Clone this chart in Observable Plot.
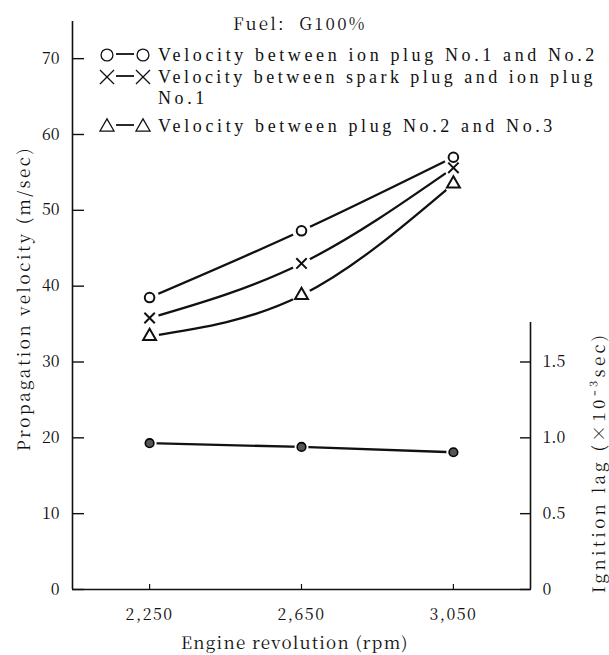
<!DOCTYPE html>
<html><head><meta charset="utf-8">
<script src="https://cdn.jsdelivr.net/npm/d3@7"></script>
<script src="https://cdn.jsdelivr.net/npm/@observablehq/plot@0.6"></script>
<style>
body{margin:0;background:#fff;}
#wrap{position:relative;width:609px;height:655px;font-family:"Noto Serif CJK JP","Liberation Serif",serif;color:#111;}
#wrap svg{position:absolute;left:0;top:0;}
.t{position:absolute;white-space:pre;font-size:17px;line-height:17px;font-family:"Noto Serif CJK JP","Liberation Serif",serif;}
.lgd{font-family:"Liberation Serif",serif;}
.rot{transform-origin:center center;}
</style></head><body><div id="wrap"></div>
<script>
// ---- data ----
const rpm = [2250, 2650, 3050];
const velIon12 = [38.5, 47.3, 57.0];
const velSparkIon1 = [35.8, 43.0, 55.6];
const velPlug23 = [33.4, 38.8, 53.5];
const ignitionLag = [0.965, 0.94, 0.905];
const velocityTicks = [0, 10, 20, 30, 40, 50, 60, 70];
const lagTicks = [0, 0.5, 1.0, 1.5];
const seriesNames = ["Velocity between ion plug No.1 and No.2", "Velocity between spark plug and ion plug", "Velocity between plug No.2 and No.3"];
const seriesNameWrap = "No.1";
const seriesSymbols = ["circle", "times", "triangle"];
const titleText = "Fuel:  G100%";
const xTitle = "Engine revolution (rpm)";
const yTitle = "Propagation velocity (m/sec)";
const y2Title = "Ignition lag (\u00d710\u207b\u00b3sec)";
const lagPerVelocity = 0.05; // 1.0 (x10^-3 sec) lag <-> 20 m/sec on the shared vertical scale

const seriesValues = [velIon12, velSparkIon1, velPlug23];
const velData = seriesValues.flatMap((vals, s) => vals.map((v, i) => ({rpm: rpm[i], v, s})));
const lagData = ignitionLag.map((l, i) => ({rpm: rpm[i], v: l / lagPerVelocity}));
const xDomain = [2047, 3253];
const yDomain = [0, 74.9];
const rightTop = 1.76 / lagPerVelocity;
const FONT = '"Noto Serif CJK JP","Liberation Serif",serif';

const ink = "#111";
const chart = Plot.plot({
  width: 609, height: 655,
  marginLeft: 72, marginRight: 79, marginTop: 21, marginBottom: 66,
  style: {fontSize: "16px", background: "white", fontFamily: FONT},
  x: {domain: xDomain},
  y: {domain: yDomain},
  marks: [
    Plot.ruleX([xDomain[0]], {stroke: ink, strokeWidth: 1.6}),
    Plot.ruleX([xDomain[1]], {y1: 0, y2: rightTop, stroke: ink, strokeWidth: 1.6}),
    Plot.ruleY([0], {stroke: ink, strokeWidth: 1.6}),
    Plot.axisY({anchor: "left", ticks: velocityTicks, tickSize: -12, tickPadding: 25, label: null, stroke: ink, strokeWidth: 1.4, fontSize: 16, fill: ink}),
    Plot.axisY({anchor: "right", ticks: lagTicks.map(d => d / lagPerVelocity), tickFormat: d => { const l = d * lagPerVelocity; return l === 0 ? "0" : l.toFixed(1); }, tickSize: -11, tickPadding: 23, label: null, stroke: ink, strokeWidth: 1.4, fontSize: 16, fill: ink}),
    Plot.axisX({ticks: rpm, tickFormat: d3.format(","), tickSize: -5, tickPadding: 24, label: null, stroke: ink, strokeWidth: 1.2, fontSize: 16, fill: ink}),
    Plot.line(velData, {x: "rpm", y: "v", z: "s", curve: "natural", stroke: ink, strokeWidth: 2.3}),
    Plot.line(lagData, {x: "rpm", y: "v", stroke: ink, strokeWidth: 2.3}),
    Plot.dot(velData, {x: "rpm", y: "v", r: 9.5, fill: "white", stroke: "none"}),
    Plot.dot(lagData, {x: "rpm", y: "v", r: 7, fill: "white", stroke: "none"}),
    Plot.dot(velData, {x: "rpm", y: "v", symbol: d => seriesSymbols[d.s], r: 4.8, fill: "none", stroke: ink, strokeWidth: 2}),
    Plot.dot(lagData, {x: "rpm", y: "v", r: 4.3, fill: "#555", stroke: "#000", strokeWidth: 1.6})
  ]
});
const wrap = document.getElementById("wrap");
wrap.appendChild(chart);
chart.setAttribute("font-family", FONT);
chart.querySelectorAll("text").forEach(t => t.style.fontFamily = FONT);
chart.querySelectorAll('g[aria-label="x-axis tick label"] text').forEach(t => t.setAttribute("letter-spacing", "1.5"));

function addText(str, opts) {
  const el = document.createElement("div");
  el.className = "t" + (opts.cls ? " " + opts.cls : "");
  el.textContent = str;
  if (opts.size) { el.style.fontSize = opts.size + "px"; el.style.lineHeight = opts.size + "px"; }
  wrap.appendChild(el);
  if (opts.spacing != null) el.style.letterSpacing = opts.spacing + "px";
  else if (opts.width) {
    const w0 = el.offsetWidth;
    el.style.letterSpacing = ((opts.width - w0) / Math.max(1, str.length)) + "px";
  }
  const w = el.offsetWidth, h = el.offsetHeight;
  const left = opts.left != null ? opts.left : opts.cx - w / 2;
  el.style.left = left + "px";
  el.style.top = (opts.cy - h / 2) + "px";
  if (opts.rotate) { el.classList.add("rot"); el.style.transform = `rotate(${opts.rotate}deg)`; }
  return el;
}

// title
addText(titleText, {cx: 300, cy: 22, width: 134, size: 17});
// legend rows
const row1 = addText(seriesNames[0], {left: 158, cy: 55, width: 440, size: 18, cls: "lgd"});
const sp = parseFloat(row1.style.letterSpacing);
addText(seriesNames[1], {left: 158, cy: 77, width: 438, size: 18, cls: "lgd"});
addText(seriesNameWrap, {left: 158, cy: 98, spacing: sp, size: 18, cls: "lgd"});
addText(seriesNames[2], {left: 158, cy: 126, spacing: sp, size: 18, cls: "lgd"});

// legend symbols
const ns = "http://www.w3.org/2000/svg";
const lg = document.createElementNS(ns, "svg");
lg.setAttribute("width", 609); lg.setAttribute("height", 150);
wrap.appendChild(lg);
const rowsY = [55, 77, 126];
const symGen = {circle: d3.symbolCircle, times: d3.symbolTimes, triangle: d3.symbolTriangle};
seriesSymbols.forEach((s, i) => {
  const y = rowsY[i];
  [107, 143].forEach(x => {
    const p = document.createElementNS(ns, "path");
    p.setAttribute("d", d3.symbol(symGen[s], s === "triangle" ? 85 : s === "times" ? 130 : 110)());
    p.setAttribute("transform", `translate(${x},${y + (s === "triangle" ? 1 : 0)})`);
    p.setAttribute("fill", "none"); p.setAttribute("stroke", ink); p.setAttribute("stroke-width", 1.3);
    lg.appendChild(p);
  });
  const l = document.createElementNS(ns, "line");
  l.setAttribute("x1", 116); l.setAttribute("x2", 134);
  l.setAttribute("y1", y - 1); l.setAttribute("y2", y - 1);
  l.setAttribute("stroke", ink); l.setAttribute("stroke-width", 1.8);
  lg.appendChild(l);
});

// axis titles
addText(yTitle, {cx: 22, cy: 298, width: 305, rotate: -90});
addText(y2Title, {cx: 598, cy: 462, width: 262, rotate: -90});
addText(xTitle, {cx: 295, cy: 641, width: 228});
</script></body></html>
